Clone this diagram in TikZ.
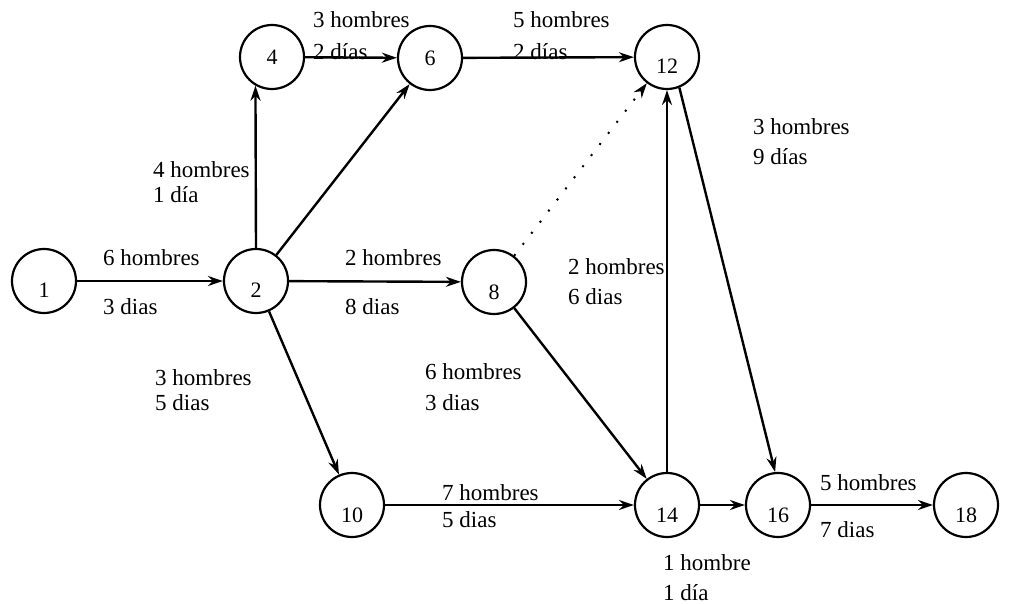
\documentclass[tikz,border=0pt]{standalone}
\usepackage{fontspec}
\setmainfont{Liberation Serif}
\usetikzlibrary{arrows.meta}

\begin{document}
\begin{tikzpicture}[x=1pt,y=-1pt,
        evento/.style={draw, circle, line width=2.2pt, minimum size=64pt, inner sep=0pt, font=\fontsize{22}{22}\selectfont},
        baja/.style={text height=34pt, text depth=0pt},
        flecha/.style={line width=2.4pt, -{Stealth[length=15pt,width=10pt]}},
        rotulo/.style={anchor=west, inner sep=0pt, font=\fontsize{23}{23}\selectfont}]
        \useasboundingbox (0,0) rectangle (1023,604);
        % eventos
        \node[evento,baja] (n1) at (44,281) {1};
        \node[evento,baja] (n2) at (256,281) {2};
        \node[evento] (n4) at (272,57) {4};
        \node[evento] (n6) at (430,58) {6};
        \node[evento,baja] (n8) at (494,282) {8};
        \node[evento,baja] (n10) at (352,505) {10};
        \node[evento,baja] (n12) at (667,57) {12};
        \node[evento,baja] (n14) at (667,505) {14};
        \node[evento,baja] (n16) at (778,505) {16};
        \node[evento,baja] (n18) at (966,505) {18};
        % actividades
        \draw[flecha] (n1) -- (n2);
        \draw[flecha] (n2.north) -- (n4.-120);
        \draw[flecha] (n2) -- (n6);
        \draw[flecha] (n2) -- (n8);
        \draw[flecha] (n2) -- (n10);
        \draw[flecha] (n4) -- (n6);
        \draw[flecha] (n6) -- (n12);
        \draw[flecha, line width=2pt, dash pattern=on 2pt off 12pt] (n8) -- (n12);
        \draw[flecha] (n8) -- (n14);
        \draw[flecha] (n10) -- (n14);
        \draw[flecha] (n14) -- (n12);
        \draw[flecha] (n12.-68) -- (n16.95);
        \draw[flecha] (n14) -- (n16);
        \draw[flecha] (n16) -- (n18);
        % hombres y dias
        \node[rotulo] (h12) at (103,258) {6 hombres};
        \node[rotulo] (d12) at (103,307) {3 dias};
        \node[rotulo] (h46) at (313,20) {3 hombres};
        \node[rotulo] (d46) at (313,52) {2 días};
        \node[rotulo] (h24) at (153,170) {4 hombres};
        \node[rotulo] (d24) at (153,195) {1 día};
        \node[rotulo] (h28) at (345,258) {2 hombres};
        \node[rotulo] (d28) at (345,307) {8 dias};
        \node[rotulo] (h612) at (513,20) {5 hombres};
        \node[rotulo] (d612) at (513,52) {2 días};
        \node[rotulo] (h1216) at (753,127) {3 hombres};
        \node[rotulo] (d1216) at (753,157) {9 días};
        \node[rotulo] (h1412) at (568,267) {2 hombres};
        \node[rotulo] (d1412) at (568,297) {6 dias};
        \node[rotulo] (h210) at (155,378) {3 hombres};
        \node[rotulo] (d210) at (155,403) {5 dias};
        \node[rotulo] (h814) at (425,372) {6 hombres};
        \node[rotulo] (d814) at (425,403) {3 dias};
        \node[rotulo] (h1014) at (442,493) {7 hombres};
        \node[rotulo] (d1014) at (442,520) {5 dias};
        \node[rotulo] (h1416) at (663,563) {1 hombre};
        \node[rotulo] (d1416) at (663,593) {1 día};
        \node[rotulo] (h1618) at (820,483) {5 hombres};
        \node[rotulo] (d1618) at (820,530) {7 dias};
\end{tikzpicture}
\end{document}
